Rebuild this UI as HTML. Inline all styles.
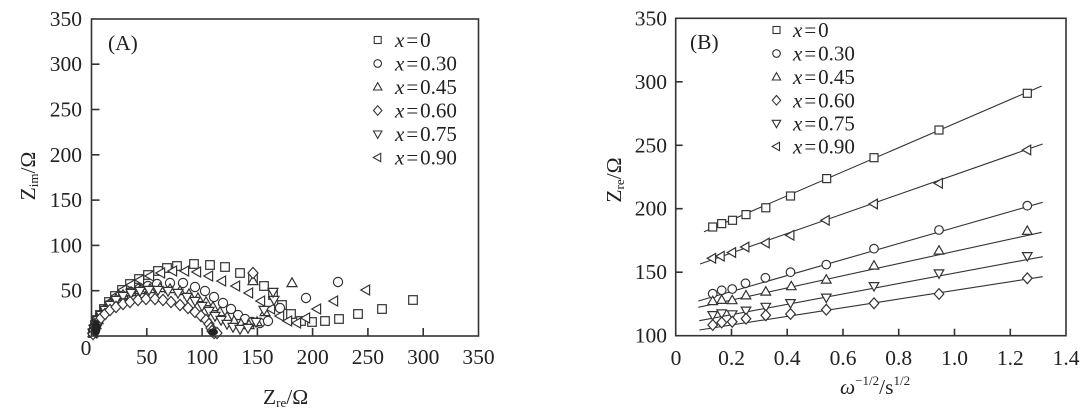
<!DOCTYPE html>
<html><head><meta charset="utf-8"><style>
html,body{margin:0;padding:0;background:#fff;}
svg{display:block;}
text{font-family:"Liberation Serif","DejaVu Serif",serif;fill:#222;}
</style></head><body>
<svg width="1088" height="411" viewBox="0 0 1088 411" xmlns="http://www.w3.org/2000/svg">
<defs>
<g id="aS"><rect x="-4.3" y="-4.3" width="8.6" height="8.6" fill="#fff" stroke="#333" stroke-width="1.2"/></g>
<g id="aC"><circle r="4.6" fill="#fff" stroke="#333" stroke-width="1.2"/></g>
<g id="aU"><path d="M0,-5.2 L5,3.6 L-5,3.6 Z" fill="#fff" stroke="#333" stroke-width="1.2"/></g>
<g id="aD"><path d="M0,-5.6 L5,0 L0,5.6 L-5,0 Z" fill="#fff" stroke="#333" stroke-width="1.2"/></g>
<g id="aV"><path d="M0,5.2 L5,-3.6 L-5,-3.6 Z" fill="#fff" stroke="#333" stroke-width="1.2"/></g>
<g id="aL"><path d="M-5.2,0 L3.6,-5 L3.6,5 Z" fill="#fff" stroke="#333" stroke-width="1.2"/></g>

<g id="bS"><rect x="-4" y="-4" width="8" height="8" fill="#fff" stroke="#333" stroke-width="1.2"/></g>
<g id="bC"><circle r="4.3" fill="#fff" stroke="#333" stroke-width="1.2"/></g>
<g id="bU"><path d="M0,-5 L4.8,3.4 L-4.8,3.4 Z" fill="#fff" stroke="#333" stroke-width="1.2"/></g>
<g id="bD"><path d="M0,-5.4 L4.8,0 L0,5.4 L-4.8,0 Z" fill="#fff" stroke="#333" stroke-width="1.2"/></g>
<g id="bV"><path d="M0,5 L4.8,-3.4 L-4.8,-3.4 Z" fill="#fff" stroke="#333" stroke-width="1.2"/></g>
<g id="bL"><path d="M-5,0 L3.4,-4.8 L3.4,4.8 Z" fill="#fff" stroke="#333" stroke-width="1.2"/></g>

<g id="lS"><rect x="-3.5" y="-3.5" width="7" height="7" fill="#fff" stroke="#333" stroke-width="1.1"/></g>
<g id="lC"><circle r="3.8" fill="#fff" stroke="#333" stroke-width="1.1"/></g>
<g id="lU"><path d="M0,-4.4 L4.2,3 L-4.2,3 Z" fill="#fff" stroke="#333" stroke-width="1.1"/></g>
<g id="lD"><path d="M0,-4.8 L4.2,0 L0,4.8 L-4.2,0 Z" fill="#fff" stroke="#333" stroke-width="1.1"/></g>
<g id="lV"><path d="M0,4.4 L4.2,-3 L-4.2,-3 Z" fill="#fff" stroke="#333" stroke-width="1.1"/></g>
<g id="lL"><path d="M-4.4,0 L3,-4.2 L3,4.2 Z" fill="#fff" stroke="#333" stroke-width="1.1"/></g>
</defs>

<!-- ================= PANEL A ================= -->
<g>
<!-- data: squares -->
<g>
<use href="#aS" x="93" y="333"/><use href="#aS" x="94" y="329"/><use href="#aS" x="95" y="325"/><use href="#aS" x="97" y="320"/><use href="#aS" x="100" y="315"/><use href="#aS" x="104" y="309"/><use href="#aS" x="109" y="302"/><use href="#aS" x="115" y="296"/><use href="#aS" x="122" y="290"/><use href="#aS" x="130" y="284"/><use href="#aS" x="139" y="279"/><use href="#aS" x="148" y="275"/><use href="#aS" x="158" y="271"/><use href="#aS" x="167" y="268"/><use href="#aS" x="177" y="266"/><use href="#aS" x="194" y="264"/><use href="#aS" x="210" y="265"/><use href="#aS" x="225" y="267"/><use href="#aS" x="240" y="273"/><use href="#aS" x="253" y="278"/><use href="#aS" x="264" y="286"/><use href="#aS" x="273" y="295"/><use href="#aS" x="282" y="305"/><use href="#aS" x="291" y="314"/><use href="#aS" x="301" y="321"/><use href="#aS" x="312" y="322"/><use href="#aS" x="325" y="321"/><use href="#aS" x="339" y="319"/><use href="#aS" x="358" y="314"/><use href="#aS" x="382" y="309"/><use href="#aS" x="413" y="300"/>
</g>
<!-- left triangles -->
<g>
<use href="#aL" x="93" y="333"/><use href="#aL" x="94" y="329"/><use href="#aL" x="96" y="325"/><use href="#aL" x="98" y="320"/><use href="#aL" x="101" y="314"/><use href="#aL" x="105" y="308"/><use href="#aL" x="110" y="302"/><use href="#aL" x="116" y="296"/><use href="#aL" x="123" y="290"/><use href="#aL" x="131" y="285"/><use href="#aL" x="140" y="280"/><use href="#aL" x="150" y="276"/><use href="#aL" x="161" y="273"/><use href="#aL" x="173" y="271"/><use href="#aL" x="185" y="271"/><use href="#aL" x="197" y="272"/><use href="#aL" x="209" y="276"/><use href="#aL" x="222" y="281"/><use href="#aL" x="236" y="286"/><use href="#aL" x="249" y="293"/><use href="#aL" x="261" y="301"/><use href="#aL" x="271" y="309"/><use href="#aL" x="280" y="316"/><use href="#aL" x="288" y="321"/><use href="#aL" x="297" y="323"/><use href="#aL" x="306" y="318"/><use href="#aL" x="317" y="309"/><use href="#aL" x="334" y="301"/><use href="#aL" x="366" y="290"/>
</g>
<!-- circles -->
<g>
<use href="#aC" x="93" y="333"/><use href="#aC" x="94" y="329"/><use href="#aC" x="96" y="325"/><use href="#aC" x="98" y="321"/><use href="#aC" x="101" y="316"/><use href="#aC" x="105" y="311"/><use href="#aC" x="110" y="306"/><use href="#aC" x="116" y="301"/><use href="#aC" x="123" y="296"/><use href="#aC" x="131" y="292"/><use href="#aC" x="139" y="289"/><use href="#aC" x="148" y="286"/><use href="#aC" x="157" y="284"/><use href="#aC" x="170" y="283"/><use href="#aC" x="183" y="283"/><use href="#aC" x="195" y="287"/><use href="#aC" x="205" y="291"/><use href="#aC" x="214" y="297"/><use href="#aC" x="223" y="303"/><use href="#aC" x="231" y="309"/><use href="#aC" x="238" y="315"/><use href="#aC" x="245" y="319"/><use href="#aC" x="252" y="322"/><use href="#aC" x="260" y="323"/><use href="#aC" x="268" y="321"/><use href="#aC" x="280" y="308"/><use href="#aC" x="306" y="298"/><use href="#aC" x="338" y="282"/>
</g>
<!-- up triangles -->
<g>
<use href="#aU" x="93" y="333"/><use href="#aU" x="94" y="329"/><use href="#aU" x="96" y="325"/><use href="#aU" x="98" y="320"/><use href="#aU" x="101" y="315"/><use href="#aU" x="105" y="310"/><use href="#aU" x="110" y="304"/><use href="#aU" x="116" y="299"/><use href="#aU" x="123" y="295"/><use href="#aU" x="131" y="292"/><use href="#aU" x="140" y="290"/><use href="#aU" x="150" y="289"/><use href="#aU" x="160" y="288"/><use href="#aU" x="170" y="289"/><use href="#aU" x="180" y="291"/><use href="#aU" x="189" y="294"/><use href="#aU" x="198" y="298"/><use href="#aU" x="206" y="302"/><use href="#aU" x="213" y="307"/><use href="#aU" x="220" y="312"/><use href="#aU" x="227" y="317"/><use href="#aU" x="234" y="321"/><use href="#aU" x="241" y="324"/><use href="#aU" x="249" y="325"/><use href="#aU" x="257" y="322"/><use href="#aU" x="265" y="312"/><use href="#aU" x="253" y="281"/><use href="#aU" x="292" y="283"/>
</g>
<!-- down triangles -->
<g>
<use href="#aV" x="93" y="333"/><use href="#aV" x="94" y="329"/><use href="#aV" x="96" y="325"/><use href="#aV" x="98" y="320"/><use href="#aV" x="101" y="315"/><use href="#aV" x="105" y="310"/><use href="#aV" x="110" y="305"/><use href="#aV" x="116" y="300"/><use href="#aV" x="123" y="296"/><use href="#aV" x="131" y="293"/><use href="#aV" x="140" y="291"/><use href="#aV" x="149" y="290"/><use href="#aV" x="158" y="290"/><use href="#aV" x="168" y="291"/><use href="#aV" x="178" y="293"/><use href="#aV" x="187" y="297"/><use href="#aV" x="195" y="301"/><use href="#aV" x="202" y="306"/><use href="#aV" x="209" y="311"/><use href="#aV" x="215" y="316"/><use href="#aV" x="221" y="320"/><use href="#aV" x="227" y="324"/><use href="#aV" x="233" y="327"/><use href="#aV" x="240" y="329"/><use href="#aV" x="248" y="328"/><use href="#aV" x="256" y="322"/><use href="#aV" x="264" y="310"/><use href="#aV" x="274" y="300"/><use href="#aV" x="273" y="292"/>
</g>
<!-- diamonds -->
<g>
<use href="#aD" x="93" y="334"/><use href="#aD" x="94" y="330"/><use href="#aD" x="96" y="326"/><use href="#aD" x="98" y="322"/><use href="#aD" x="101" y="318"/><use href="#aD" x="105" y="314"/><use href="#aD" x="110" y="310"/><use href="#aD" x="116" y="307"/><use href="#aD" x="123" y="304"/><use href="#aD" x="130" y="302"/><use href="#aD" x="138" y="300"/><use href="#aD" x="146" y="299"/><use href="#aD" x="155" y="299"/><use href="#aD" x="163" y="300"/><use href="#aD" x="171" y="302"/><use href="#aD" x="180" y="305"/><use href="#aD" x="188" y="308"/><use href="#aD" x="195" y="312"/><use href="#aD" x="201" y="316"/><use href="#aD" x="206" y="320"/><use href="#aD" x="209" y="324"/><use href="#aD" x="211" y="328"/><use href="#aD" x="212" y="331"/><use href="#aD" x="214" y="333"/><use href="#aD" x="217" y="333"/><use href="#aD" x="253" y="273"/>
</g>
<!-- dense dark clusters -->
<ellipse cx="96" cy="328" rx="4.5" ry="8" fill="#222"/>
<ellipse cx="213" cy="332" rx="5" ry="3.5" fill="#222"/>

<!-- frame & ticks -->
<rect x="91.5" y="19" width="387" height="317" fill="none" stroke="#333" stroke-width="1.6"/>
<g stroke="#333" stroke-width="1.6">
<line x1="91.5" y1="290.7" x2="99.5" y2="290.7"/>
<line x1="91.5" y1="245.4" x2="99.5" y2="245.4"/>
<line x1="91.5" y1="200.1" x2="99.5" y2="200.1"/>
<line x1="91.5" y1="154.8" x2="99.5" y2="154.8"/>
<line x1="91.5" y1="109.5" x2="99.5" y2="109.5"/>
<line x1="91.5" y1="64.2" x2="99.5" y2="64.2"/>
<line x1="146.8" y1="336" x2="146.8" y2="328"/>
<line x1="202.1" y1="336" x2="202.1" y2="328"/>
<line x1="257.4" y1="336" x2="257.4" y2="328"/>
<line x1="312.6" y1="336" x2="312.6" y2="328"/>
<line x1="367.9" y1="336" x2="367.9" y2="328"/>
<line x1="423.2" y1="336" x2="423.2" y2="328"/>
</g>
<g font-size="21.5" text-anchor="end">
<text x="82" y="297.7">50</text>
<text x="82" y="252.4">100</text>
<text x="82" y="207.1">150</text>
<text x="82" y="161.8">200</text>
<text x="82" y="116.5">250</text>
<text x="82" y="71.2">300</text>
<text x="82" y="25.9">350</text>
</g>
<g font-size="21.5" text-anchor="middle">
<text x="86" y="355">0</text>
<text x="146.8" y="364">50</text>
<text x="202.1" y="364">100</text>
<text x="257.4" y="364">150</text>
<text x="312.6" y="364">200</text>
<text x="367.9" y="364">250</text>
<text x="423.2" y="364">300</text>
<text x="478.5" y="364">350</text>
</g>
<text x="108" y="50" font-size="21.5">(A)</text>
<!-- axis titles -->
<text x="263" y="404" font-size="21.5">Z<tspan font-size="13" dy="3">re</tspan><tspan dy="-3">/Ω</tspan></text>
<g transform="translate(35,176) rotate(-90)"><text x="0" y="0" font-size="21.5" text-anchor="middle">Z<tspan font-size="13" dy="3">im</tspan><tspan dy="-3">/Ω</tspan></text></g>
<!-- legend A -->
<use href="#lS" x="377.7" y="40"/>
<use href="#lC" x="377.7" y="63.5"/>
<use href="#lU" x="377.7" y="87"/>
<use href="#lD" x="377.7" y="110.5"/>
<use href="#lV" x="377.7" y="134"/>
<use href="#lL" x="377.7" y="157.5"/>
<g font-size="21">
<text x="395" y="47"><tspan font-style="italic">x</tspan><tspan dx="2">=</tspan><tspan dx="2">0</tspan></text>
<text x="395" y="70.5"><tspan font-style="italic">x</tspan><tspan dx="2">=</tspan><tspan dx="2">0.30</tspan></text>
<text x="395" y="94"><tspan font-style="italic">x</tspan><tspan dx="2">=</tspan><tspan dx="2">0.45</tspan></text>
<text x="395" y="117.5"><tspan font-style="italic">x</tspan><tspan dx="2">=</tspan><tspan dx="2">0.60</tspan></text>
<text x="395" y="141"><tspan font-style="italic">x</tspan><tspan dx="2">=</tspan><tspan dx="2">0.75</tspan></text>
<text x="395" y="164.5"><tspan font-style="italic">x</tspan><tspan dx="2">=</tspan><tspan dx="2">0.90</tspan></text>
</g>
</g>

<!-- ================= PANEL B ================= -->
<g>
<!-- fit lines -->
<g stroke="#333" stroke-width="1.1">
<line x1="704" y1="231.7" x2="1041.7" y2="86"/>
<line x1="700" y1="264" x2="1042.7" y2="144"/>
<line x1="698.3" y1="301" x2="1042.7" y2="202.3"/>
<line x1="698.3" y1="307.3" x2="1041.7" y2="232.3"/>
<line x1="699.3" y1="320.7" x2="1042.7" y2="256.7"/>
<line x1="699.3" y1="330" x2="1042.7" y2="276.7"/>
</g>
<!-- squares -->
<use href="#bS" x="712.7" y="227"/><use href="#bS" x="721.7" y="223.6"/><use href="#bS" x="732.5" y="220.3"/><use href="#bS" x="746" y="214.6"/><use href="#bS" x="765.8" y="207.8"/><use href="#bS" x="790.5" y="196"/><use href="#bS" x="826.7" y="178.6"/><use href="#bS" x="874" y="157.7"/><use href="#bS" x="939" y="130"/><use href="#bS" x="1027.3" y="93.3"/>
<!-- left triangles -->
<use href="#bL" x="712.2" y="258.3"/><use href="#bL" x="720.8" y="256.2"/><use href="#bL" x="732.2" y="252.5"/><use href="#bL" x="745.5" y="247"/><use href="#bL" x="765.8" y="243"/><use href="#bL" x="790.5" y="235.3"/><use href="#bL" x="825.8" y="220.3"/><use href="#bL" x="874" y="204"/><use href="#bL" x="939" y="183.3"/><use href="#bL" x="1027.3" y="150"/>
<!-- circles -->
<use href="#bC" x="712.7" y="293.7"/><use href="#bC" x="721.7" y="290.3"/><use href="#bC" x="732.2" y="289"/><use href="#bC" x="745.5" y="283.3"/><use href="#bC" x="765.4" y="277.8"/><use href="#bC" x="790.5" y="272.2"/><use href="#bC" x="826.3" y="264.6"/><use href="#bC" x="874" y="248.7"/><use href="#bC" x="939" y="230"/><use href="#bC" x="1027.3" y="205.7"/>
<!-- up triangles -->
<use href="#bU" x="712.7" y="301.2"/><use href="#bU" x="721.7" y="300"/><use href="#bU" x="732.2" y="300.3"/><use href="#bU" x="746" y="295.5"/><use href="#bU" x="765.8" y="291.7"/><use href="#bU" x="791.3" y="286.3"/><use href="#bU" x="826.3" y="279.7"/><use href="#bU" x="874" y="265.7"/><use href="#bU" x="939" y="250.7"/><use href="#bU" x="1027.3" y="231"/>
<!-- down triangles -->
<use href="#bV" x="712.7" y="315"/><use href="#bV" x="721.7" y="313.3"/><use href="#bV" x="732.2" y="314.2"/><use href="#bV" x="746" y="310.5"/><use href="#bV" x="765.8" y="306.7"/><use href="#bV" x="790.5" y="303"/><use href="#bV" x="826.3" y="297.5"/><use href="#bV" x="874" y="286"/><use href="#bV" x="939" y="273.3"/><use href="#bV" x="1027.3" y="256"/>
<!-- diamonds -->
<use href="#bD" x="712.7" y="325"/><use href="#bD" x="721.7" y="322.5"/><use href="#bD" x="732.2" y="321.8"/><use href="#bD" x="746" y="318.7"/><use href="#bD" x="765.8" y="315.3"/><use href="#bD" x="790.5" y="314"/><use href="#bD" x="826.3" y="309.7"/><use href="#bD" x="874" y="303.3"/><use href="#bD" x="939" y="294"/><use href="#bD" x="1027.3" y="278.3"/>

<!-- frame & ticks -->
<rect x="675.7" y="18.3" width="390.3" height="317.4" fill="none" stroke="#333" stroke-width="1.6"/>
<g stroke="#333" stroke-width="1.6">
<line x1="675.7" y1="272.2" x2="682.7" y2="272.2"/>
<line x1="675.7" y1="208.7" x2="682.7" y2="208.7"/>
<line x1="675.7" y1="145.3" x2="682.7" y2="145.3"/>
<line x1="675.7" y1="81.8" x2="682.7" y2="81.8"/>
<line x1="731.5" y1="335.7" x2="731.5" y2="328.7"/>
<line x1="787.2" y1="335.7" x2="787.2" y2="328.7"/>
<line x1="843" y1="335.7" x2="843" y2="328.7"/>
<line x1="898.7" y1="335.7" x2="898.7" y2="328.7"/>
<line x1="954.5" y1="335.7" x2="954.5" y2="328.7"/>
<line x1="1010.3" y1="335.7" x2="1010.3" y2="328.7"/>
</g>
<g font-size="21.5" text-anchor="end">
<text x="667" y="342.7">100</text>
<text x="667" y="279.2">150</text>
<text x="667" y="215.7">200</text>
<text x="667" y="152.3">250</text>
<text x="667" y="88.8">300</text>
<text x="667" y="25.3">350</text>
</g>
<g font-size="21.5" text-anchor="middle">
<text x="676" y="365">0</text>
<text x="731.5" y="365">0.2</text>
<text x="787.2" y="365">0.4</text>
<text x="843" y="365">0.6</text>
<text x="898.7" y="365">0.8</text>
<text x="954.5" y="365">1.0</text>
<text x="1010.3" y="365">1.2</text>
<text x="1066" y="365">1.4</text>
</g>
<text x="690" y="49" font-size="21.5">(B)</text>
<!-- axis titles -->
<text x="840" y="394" font-size="21.5"><tspan font-style="italic">ω</tspan><tspan font-size="13" dy="-9">−1/2</tspan><tspan dy="9">/s</tspan><tspan font-size="13" dy="-9">1/2</tspan></text>
<g transform="translate(621,180) rotate(-90)"><text x="0" y="0" font-size="21.5" text-anchor="middle">Z<tspan font-size="13" dy="3">re</tspan><tspan dy="-3">/Ω</tspan></text></g>
<!-- legend B -->
<use href="#lS" x="776.5" y="30"/>
<use href="#lC" x="776.5" y="53.5"/>
<use href="#lU" x="776.5" y="77"/>
<use href="#lD" x="776.5" y="100.3"/>
<use href="#lV" x="776.5" y="123.3"/>
<use href="#lL" x="776.5" y="146.5"/>
<g font-size="21">
<text x="793" y="37"><tspan font-style="italic">x</tspan><tspan dx="2">=</tspan><tspan dx="2">0</tspan></text>
<text x="793" y="60.5"><tspan font-style="italic">x</tspan><tspan dx="2">=</tspan><tspan dx="2">0.30</tspan></text>
<text x="793" y="84"><tspan font-style="italic">x</tspan><tspan dx="2">=</tspan><tspan dx="2">0.45</tspan></text>
<text x="793" y="107.3"><tspan font-style="italic">x</tspan><tspan dx="2">=</tspan><tspan dx="2">0.60</tspan></text>
<text x="793" y="130.3"><tspan font-style="italic">x</tspan><tspan dx="2">=</tspan><tspan dx="2">0.75</tspan></text>
<text x="793" y="153.5"><tspan font-style="italic">x</tspan><tspan dx="2">=</tspan><tspan dx="2">0.90</tspan></text>
</g>
</g>
</svg>
</body></html>
